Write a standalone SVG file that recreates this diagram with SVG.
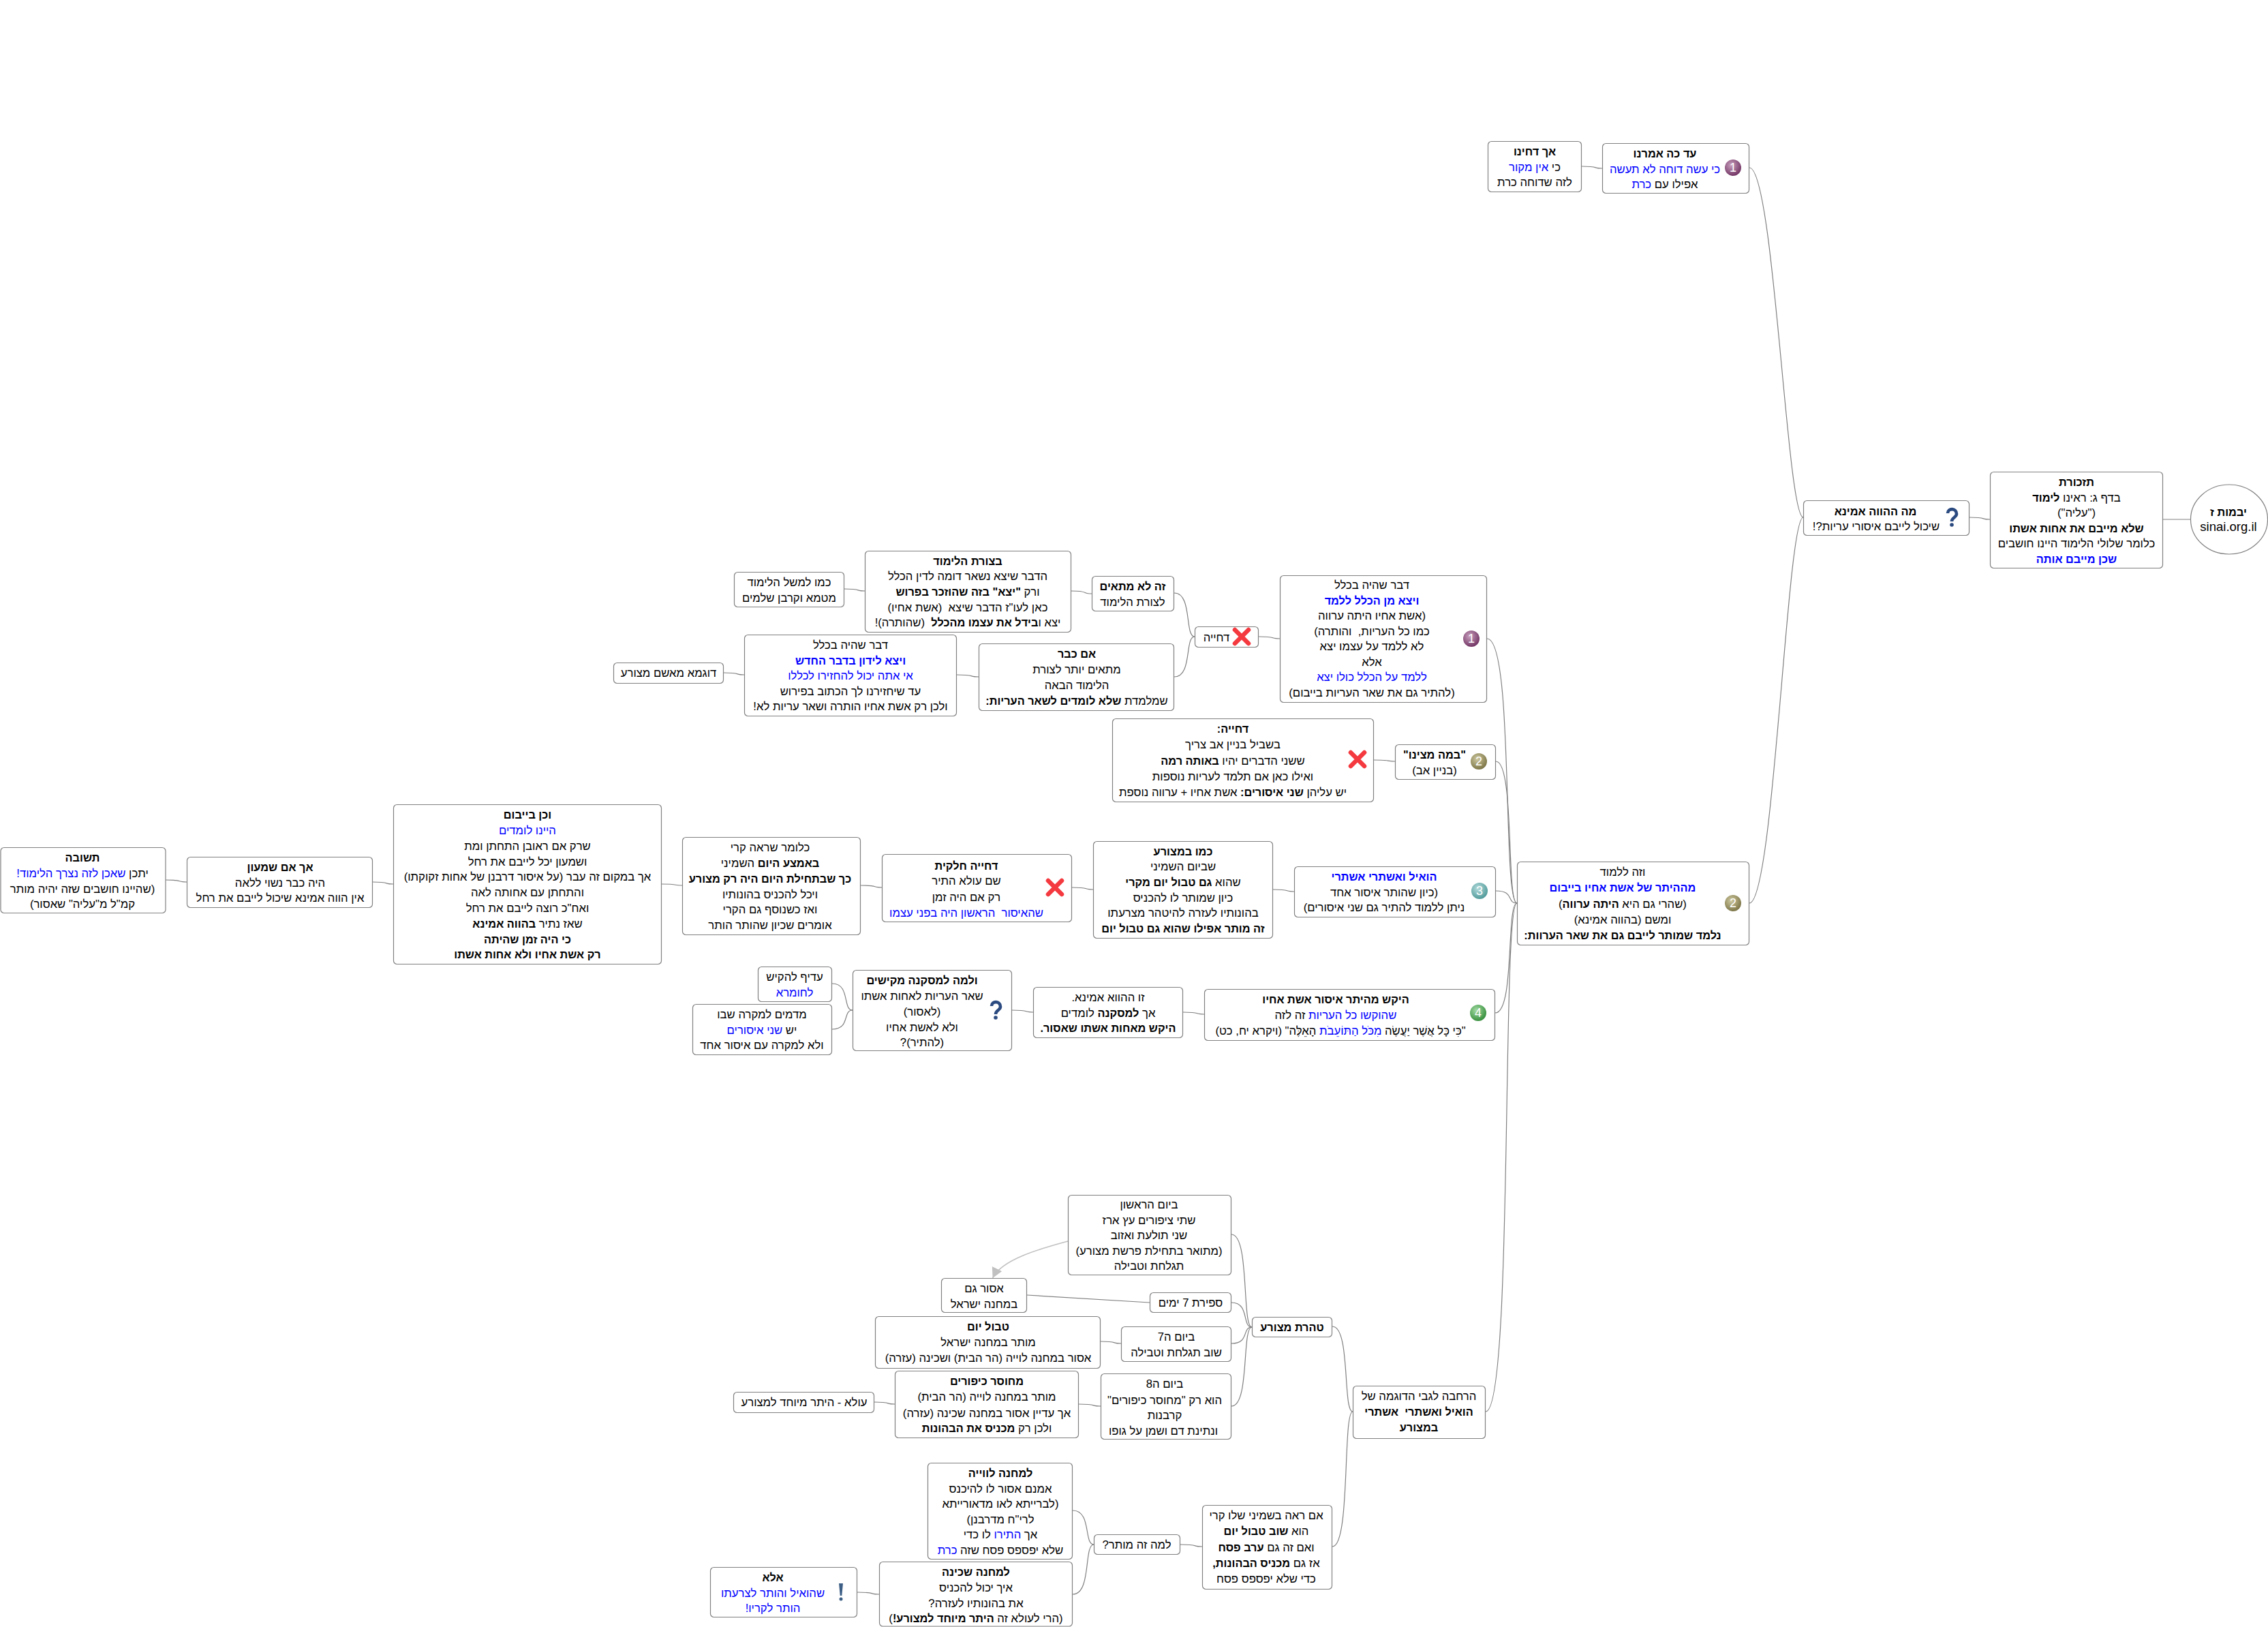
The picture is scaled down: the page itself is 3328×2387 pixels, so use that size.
<svg xmlns="http://www.w3.org/2000/svg" width="3328" height="2387" viewBox="0 0 3328 2387">
<style>
.t{font-family:"Liberation Sans",Arial,sans-serif;font-size:16.7px;text-anchor:middle;direction:rtl;unicode-bidi:embed;white-space:pre;fill:#000}
.l{font-family:"Liberation Sans",Arial,sans-serif;font-size:18.5px;text-anchor:middle;fill:#000}
.b{font-weight:bold;font-size:16.3px}
.u{fill:#00f}
.n{fill:#fff;stroke:#808080;stroke-width:1.2}
.c{fill:none;stroke:#808080;stroke-width:1.2}
.x{fill:none;stroke:#c0c0c0;stroke-width:1.5}
.d{font-family:"Liberation Sans",Arial,sans-serif;font-size:18px;text-anchor:middle;fill:#fff}
</style>
<defs>
<radialGradient id="g1" cx=".4" cy=".35" r=".7"><stop offset="0" stop-color="#c9a0bd"/><stop offset="1" stop-color="#6d2f60"/></radialGradient>
<radialGradient id="g2" cx=".4" cy=".35" r=".7"><stop offset="0" stop-color="#cfc9a0"/><stop offset="1" stop-color="#777042"/></radialGradient>
<radialGradient id="g3" cx=".4" cy=".35" r=".7"><stop offset="0" stop-color="#b5dcdc"/><stop offset="1" stop-color="#4b9696"/></radialGradient>
<radialGradient id="g4" cx=".4" cy=".35" r=".7"><stop offset="0" stop-color="#a5dca5"/><stop offset="1" stop-color="#2f8a36"/></radialGradient>
<g id="ix"><path d="M-10 -10L10 10M10 -10L-10 10" stroke="#f4393f" stroke-width="6.5" stroke-linecap="round" fill="none"/></g>
<g id="iq"><path d="M-6 -6C-6 -14 7 -14 7 -5C7 0 0 0 0 6" stroke="#2b4a80" stroke-width="4.6" fill="none"/><circle cx="0" cy="11" r="2.8" fill="#2b4a80"/></g>
<g id="ie"><path d="M-3 -12L3 -12L1.3 6L-1.3 6Z" fill="#3d5f85"/><circle cx="0" cy="11" r="2.5" fill="#3d5f85"/></g>
<marker id="a" markerUnits="userSpaceOnUse" markerWidth="18" markerHeight="18" refX="15" refY="8" orient="auto"><path d="M0 0L15 8L0 16Z" fill="#c0c0c0"/></marker>
</defs>
<g id="connectors">
<path class="c" d="M2890 759C2917 759 2905 762 2920 762"/>
<path class="c" d="M3174 762L3214 762"/>
<path class="c" d="M2567 246C2603 246 2622 759 2646 759"/>
<path class="c" d="M2567 1325C2603 1325 2622 759 2646 759"/>
<path class="c" d="M2321 244C2348 244 2336 247 2351 247"/>
<path class="c" d="M2182 937C2222 937 2204 1325 2226 1325"/>
<path class="c" d="M2195 1117C2223 1117 2210 1325 2226 1325"/>
<path class="c" d="M2195 1307C2223 1307 2210 1325 2226 1325"/>
<path class="c" d="M2194 1486C2223 1486 2210 1325 2226 1325"/>
<path class="c" d="M2180 2071C2221 2071 2203 1325 2226 1325"/>
<path class="c" d="M1847 934C1875 934 1862 937 1878 937"/>
<path class="c" d="M1723 870C1750 870 1738 934 1753 934"/>
<path class="c" d="M1723 993C1750 993 1738 934 1753 934"/>
<path class="c" d="M1572 867C1599 867 1587 871 1602 871"/>
<path class="c" d="M1239 864C1266 864 1254 867 1269 867"/>
<path class="c" d="M1404 990C1433 990 1420 993 1436 993"/>
<path class="c" d="M1062 987C1089 987 1077 990 1092 990"/>
<path class="c" d="M2016 1115C2044 1115 2031 1117 2047 1117"/>
<path class="c" d="M1868 1305C1896 1305 1883 1308 1899 1308"/>
<path class="c" d="M1573 1302C1601 1302 1588 1305 1604 1305"/>
<path class="c" d="M1263 1299C1291 1299 1278 1302 1294 1302"/>
<path class="c" d="M971 1297C998 1297 986 1299 1001 1299"/>
<path class="c" d="M547 1294C574 1294 562 1297 577 1297"/>
<path class="c" d="M243 1291C271 1291 258 1294 274 1294"/>
<path class="c" d="M1736 1485C1764 1485 1751 1488 1767 1488"/>
<path class="c" d="M1485 1482C1513 1482 1500 1485 1516 1485"/>
<path class="c" d="M1221 1443C1248 1443 1236 1482 1251 1482"/>
<path class="c" d="M1221 1510C1248 1510 1236 1482 1251 1482"/>
<path class="c" d="M1955 1946C1982 1946 1970 2071 1985 2071"/>
<path class="c" d="M1955 2269C1982 2269 1970 2071 1985 2071"/>
<path class="c" d="M1807 1811C1834 1811 1822 1947 1837 1947"/>
<path class="c" d="M1807 1911C1834 1911 1822 1947 1837 1947"/>
<path class="c" d="M1807 1971C1834 1971 1822 1947 1837 1947"/>
<path class="c" d="M1807 2063C1834 2063 1822 1947 1837 1947"/>
<path class="c" d="M1615 1968C1642 1968 1630 1971 1645 1971"/>
<path class="c" d="M1583 2060C1612 2060 1599 2063 1615 2063"/>
<path class="c" d="M1283 2057C1310 2057 1298 2060 1313 2060"/>
<path class="c" d="M1507 1900L1687 1911"/>
<path class="c" d="M1732 2266C1761 2266 1748 2269 1764 2269"/>
<path class="c" d="M1574 2216C1602 2216 1590 2266 1605 2266"/>
<path class="c" d="M1574 2339C1602 2339 1590 2266 1605 2266"/>
<path class="c" d="M1258 2336C1287 2336 1274 2339 1290 2339"/>
<path class="x" d="M1567 1821C1530 1831 1470 1847 1456.6 1875" marker-end="url(#a)"/>
</g>
<g id="n-root"><ellipse class="n" cx="3271" cy="762" rx="56.5" ry="51"/><text class="t b" x="3270" y="757">יבמות ז</text><text class="l" x="3270" y="779">sinai.org.il</text></g>
<g id="n-tizkoret"><rect class="n" x="2920.5" y="692.5" width="253" height="141" rx="5"/>
<text class="t b" x="3047" y="713">תזכורת</text><text class="t" x="3047" y="736">בדף ג: ראינו <tspan class="b">לימוד</tspan></text><text class="t" x="3047" y="758">("עליה")</text><text class="t b" x="3047" y="781">שלא מייבם את אחות אשתו</text><text class="t" x="3047" y="803">כלומר שלולי הלימוד היינו חושבים</text><text class="t b u" x="3047" y="826">שכן מייבם אותה</text></g>
<g id="n-hava"><rect class="n" x="2646.5" y="734.5" width="243" height="51" rx="5"/><use href="#iq" x="2864" y="759"/>
<text class="t b" x="2752" y="756">מה ההווה אמינא</text><text class="t" x="2753" y="778">שיכול לייבם איסורי עריות?!</text></g>
<g id="n-ad-ko"><rect class="n" x="2351.5" y="210.5" width="215" height="73" rx="5"/><circle cx="2543" cy="246" r="12" fill="url(#g1)"/><text class="d" x="2543" y="252">1</text>
<text class="t b" x="2443" y="231">עד כה אמרנו</text><text class="t u" x="2443" y="254">כי עשה דוחה לא תעשה</text><text class="t" x="2443" y="276">אפילו עם <tspan class="u">כרת</tspan></text></g>
<g id="n-ach-dachinu"><rect class="n" x="2183.5" y="207.5" width="137" height="74" rx="5"/>
<text class="t b" x="2252" y="228">אך דחינו</text><text class="t" x="2252" y="251">כי <tspan class="u">אין מקור</tspan></text><text class="t" x="2252" y="273">לזה שדוחה כרת</text></g>
<g id="n-davar"><rect class="n" x="1878.5" y="844.5" width="303" height="186" rx="5"/><circle cx="2159" cy="937" r="12" fill="url(#g1)"/><text class="d" x="2159" y="943">1</text>
<text class="t" x="2013" y="864">דבר שהיה בכלל</text><text class="t b u" x="2013" y="887">ויצא מן הכלל ללמד</text><text class="t" x="2013" y="909">(אשת אחיו היתה ערווה</text><text class="t" x="2013" y="932">כמו כל העריות,  והותרה)</text><text class="t" x="2013" y="954">לא ללמד על עצמו יצא</text><text class="t" x="2013" y="977">אלא</text><text class="t u" x="2013" y="999">ללמד על הכלל כולו יצא</text><text class="t" x="2013" y="1022">(להתיר גם את שאר העריות בייבום)</text></g>
<g id="n-dchiya1"><rect class="n" x="1753.5" y="919.5" width="93" height="30" rx="5"/><use href="#ix" x="1822" y="934"/><text class="t" x="1785" y="941">דחייה</text></g>
<g id="n-lo-matim"><rect class="n" x="1602.5" y="845.5" width="120" height="51" rx="5"/><text class="t b" x="1662" y="866">זה לא מתאים</text><text class="t" x="1662" y="889">לצורת הלימוד</text></g>
<g id="n-tzurat"><rect class="n" x="1269.5" y="808.5" width="302" height="119" rx="5"/>
<text class="t b" x="1420" y="829">בצורת הלימוד</text><text class="t" x="1420" y="851">הדבר שיצא נשאר דומה לדין הכלל</text><text class="t" x="1420" y="874">ורק <tspan class="b">"יצא" בזה שהוזכר בפרוש</tspan></text><text class="t" x="1420" y="897">כאן לעו"ז הדבר שיצא  (אשת אחיו)</text><text class="t" x="1420" y="919">יצא ו<tspan class="b">בידל את עצמו מהכלל</tspan>  (שהותרה)!</text></g>
<g id="n-kmo-lemashal"><rect class="n" x="1077.5" y="839.5" width="161" height="51" rx="5"/><text class="t" x="1158" y="860">כמו למשל הלימוד</text><text class="t" x="1158" y="883">מטמא וקרבן שלמים</text></g>
<g id="n-im-kvar"><rect class="n" x="1436.5" y="944.5" width="286" height="98" rx="5"/>
<text class="t b" x="1580" y="965">אם כבר</text><text class="t" x="1580" y="988">מתאים יותר לצורת</text><text class="t" x="1580" y="1011">הלימוד הבאה</text><text class="t" x="1580" y="1034">שמלמדת <tspan class="b">שלא לומדים לשאר העריות:</tspan></text></g>
<g id="n-davar2"><rect class="n" x="1092.5" y="931.5" width="311" height="119" rx="5"/>
<text class="t" x="1248" y="952">דבר שהיה בכלל</text><text class="t b u" x="1248" y="975">ויצא לידון בדבר החדש</text><text class="t u" x="1248" y="997">אי אתה יכול להחזירו לכללו</text><text class="t" x="1248" y="1020">עד שיחזירנו לך הכתוב בפירוש</text><text class="t" x="1248" y="1042">ולכן רק אשת אחיו הותרה ושאר עריות לא!</text></g>
<g id="n-dugma"><rect class="n" x="900.5" y="972.5" width="161" height="30" rx="5"/><text class="t" x="981" y="993">דוגמא מאשם מצורע</text></g>
<g id="n-dchiya2"><rect class="n" x="1632.5" y="1054.5" width="383" height="122" rx="5"/><use href="#ix" x="1992" y="1114"/>
<text class="t b" x="1809" y="1075">דחייה:</text><text class="t" x="1809" y="1098">בשביל בניין אב צריך</text><text class="t" x="1809" y="1122">ששני הדברים יהיו <tspan class="b">באותה רמה</tspan></text><text class="t" x="1809" y="1145">ואילו כאן אם תלמד לעריות נוספות</text><text class="t" x="1809" y="1168">יש עליהן <tspan class="b">שני איסורים:</tspan> אשת אחיו + ערווה נוספת</text></g>
<g id="n-bama"><rect class="n" x="2047.5" y="1092.5" width="147" height="51" rx="5"/><circle cx="2170" cy="1117" r="12" fill="url(#g2)"/><text class="d" x="2170" y="1123">2</text>
<text class="t b" x="2105" y="1113">"במה מצינו"</text><text class="t" x="2105" y="1136">(בניין אב)</text></g>
<g id="n-hoil"><rect class="n" x="1899.5" y="1271.5" width="295" height="74" rx="5"/><circle cx="2171" cy="1307" r="12" fill="url(#g3)"/><text class="d" x="2171" y="1313">3</text>
<text class="t b u" x="2031" y="1292">הואיל ואשתרי אשתרי</text><text class="t" x="2031" y="1315">(כיון שהותר איסור אחד</text><text class="t" x="2031" y="1337">ניתן ללמוד להתיר גם שני איסורים)</text></g>
<g id="n-kmo-metzora"><rect class="n" x="1604.5" y="1234.5" width="263" height="142" rx="5"/>
<text class="t b" x="1736" y="1255">כמו במצורע</text><text class="t" x="1736" y="1277">שביום השמיני</text><text class="t" x="1736" y="1300">שהוא <tspan class="b">גם טבול יום מקרי</tspan></text><text class="t" x="1736" y="1323">כיון שמותר לו להכניס</text><text class="t" x="1736" y="1345">בהונותיו לעזרה להיטהר מצרעתו</text><text class="t b" x="1736" y="1368">זה מותר אפילו שהוא גם טבול יום</text></g>
<g id="n-dchiya3"><rect class="n" x="1294.5" y="1253.5" width="278" height="99" rx="5"/><use href="#ix" x="1548" y="1302"/>
<text class="t b" x="1418" y="1276">דחייה חלקית</text><text class="t" x="1418" y="1298">שם עולא התיר</text><text class="t" x="1418" y="1322">רק אם היה זמן</text><text class="t u" x="1418" y="1345">שהאיסור  הראשון היה בפני עצמו</text></g>
<g id="n-klomar"><rect class="n" x="1001.5" y="1228.5" width="261" height="143" rx="5"/>
<text class="t" x="1130" y="1249">כלומר שראה קרי</text><text class="t" x="1130" y="1272"><tspan class="b">באמצע היום</tspan> השמיני</text><text class="t b" x="1130" y="1295">כך שבתחילת היום היה רק מצורע</text><text class="t" x="1130" y="1318">ויכל להכניס בהונותיו</text><text class="t" x="1130" y="1340">ואז כשנוסף גם הקרי</text><text class="t" x="1130" y="1363">אומרים שכיון שהותר הותר</text></g>
<g id="n-vechen"><rect class="n" x="577.5" y="1180.5" width="393" height="234" rx="5"/>
<text class="t b" x="774" y="1201">וכן בייבום</text><text class="t u" x="774" y="1224">היינו לומדים</text><text class="t" x="774" y="1247">שרק אם ראובן התחתן ומת</text><text class="t" x="774" y="1270">ושמעון יכל לייבם את רחל</text><text class="t" x="774" y="1292">אך במקום זה עבר (על איסור דרבנן של אחות זקוקתו)</text><text class="t" x="774" y="1315">והתחתן עם אחותה לאה</text><text class="t" x="774" y="1338">ואח"כ רוצה לייבם את רחל</text><text class="t" x="774" y="1361">שאז נתיר <tspan class="b">בהווה אמינא</tspan></text><text class="t b" x="774" y="1384">כי היה זמן שהיתה</text><text class="t b" x="774" y="1406">רק אשת אחיו ולא אחות אשתו</text></g>
<g id="n-shimon"><rect class="n" x="274.5" y="1257.5" width="272" height="74" rx="5"/><text class="t b" x="411" y="1278">אך אם שמעון</text><text class="t" x="411" y="1301">היה כבר נשוי ללאה</text><text class="t" x="411" y="1323">אין הווה אמינא שיכול לייבם את רחל</text></g>
<g id="n-tshuva"><rect class="n" x="1" y="1243.5" width="242" height="96" rx="5"/><text class="t b" x="121" y="1264">תשובה</text><text class="t" x="121" y="1287">יתכן <tspan class="u">שאכן לזה נצרך הלימוד!</tspan></text><text class="t" x="121" y="1310">(שהיינו חושבים שזה יהיה מותר</text><text class="t" x="121" y="1332">קמ"ל מ"עליה" שאסור)</text></g>
<g id="n-veze"><rect class="n" x="2226.5" y="1264.5" width="340" height="122" rx="5"/><circle cx="2543" cy="1325" r="12" fill="url(#g2)"/><text class="d" x="2543" y="1331">2</text>
<text class="t" x="2381" y="1285">וזה ללמוד</text><text class="t b u" x="2381" y="1308">מההיתר של אשת אחיו בייבום</text><text class="t" x="2381" y="1332">(שהרי גם היא <tspan class="b">היתה ערווה</tspan>)</text><text class="t" x="2381" y="1355">ומשם (בהווה אמינא)</text><text class="t b" x="2381" y="1378">נלמד שמותר לייבם גם את שאר הערוות:</text></g>
<g id="n-hekesh"><rect class="n" x="1767.5" y="1451.5" width="426" height="75" rx="5"/><circle cx="2169" cy="1486" r="12" fill="url(#g4)"/><text class="d" x="2169" y="1492">4</text>
<text class="t b" x="1960" y="1472">היקש מהיתר איסור אשת אחיו</text><text class="t" x="1960" y="1495"><tspan class="u">שהוקשו כל העריות</tspan> זה לזה</text><text class="t" x="1967" y="1518">"כִּי כָּל אֲשֶׁר יַעֲשֶׂה <tspan class="u">מִכֹּל הַתּוֹעֵבֹת</tspan> הָאֵלֶּה" (ויקרא יח, כט)</text></g>
<g id="n-zu"><rect class="n" x="1516.5" y="1448.5" width="219" height="74" rx="5"/><text class="t" x="1626" y="1469">זו ההווא אמינא.</text><text class="t" x="1626" y="1492">אך <tspan class="b">למסקנה</tspan> לומדים</text><text class="t b" x="1626" y="1514">היקש מאחות אשתו שאסור.</text></g>
<g id="n-velama"><rect class="n" x="1251.5" y="1423.5" width="233" height="118" rx="5"/><use href="#iq" x="1461" y="1482"/>
<text class="t b" x="1353" y="1444">ולמה למסקנה מקישים</text><text class="t" x="1353" y="1467">שאר העריות לאחות אשתו</text><text class="t" x="1353" y="1490">(לאסור)</text><text class="t" x="1353" y="1513">ולא לאשת אחיו</text><text class="t" x="1353" y="1535">(להתיר)?</text></g>
<g id="n-adif"><rect class="n" x="1112.5" y="1418.5" width="108" height="51" rx="5"/><text class="t" x="1166" y="1439">עדיף להקיש</text><text class="t u" x="1166" y="1462">לחומרא</text></g>
<g id="n-medamim"><rect class="n" x="1016.5" y="1473.5" width="204" height="74" rx="5"/><text class="t" x="1118" y="1494">מדמים למקרה שבו</text><text class="t" x="1118" y="1517">יש <tspan class="u">שני איסורים</tspan></text><text class="t" x="1118" y="1539">ולא למקרה עם איסור אחד</text></g>
<g id="n-rishon"><rect class="n" x="1567.5" y="1753.5" width="239" height="117" rx="5"/>
<text class="t" x="1686" y="1773">ביום הראשון</text><text class="t" x="1686" y="1796">שתי ציפורים עץ ארז</text><text class="t" x="1686" y="1818">שני תולעת ואזוב</text><text class="t" x="1686" y="1841">(מתואר בתחילת פרשת מצורע)</text><text class="t" x="1686" y="1863">תגלחת וטבילה</text></g>
<g id="n-asur"><rect class="n" x="1381.5" y="1875.5" width="125" height="50" rx="5"/><text class="t" x="1444" y="1896">אסור גם</text><text class="t" x="1444" y="1919">במחנה ישראל</text></g>
<g id="n-sfirat"><rect class="n" x="1687.5" y="1896.5" width="119" height="29" rx="5"/><text class="t" x="1747" y="1917">ספירת 7 ימים</text></g>
<g id="n-tvul"><rect class="n" x="1284.5" y="1931.5" width="330" height="76" rx="5"/><text class="t b" x="1450" y="1952">טבול יום</text><text class="t" x="1450" y="1975">מותר במחנה ישראל</text><text class="t" x="1450" y="1998">אסור במחנה לוייה (הר הבית) ושכינה (עזרה)</text></g>
<g id="n-yom7"><rect class="n" x="1645.5" y="1946.5" width="161" height="51" rx="5"/><text class="t" x="1726" y="1967">ביום ה7</text><text class="t" x="1726" y="1990">שוב תגלחת וטבילה</text></g>
<g id="n-mechusar"><rect class="n" x="1313.5" y="2011.5" width="269" height="98" rx="5"/><text class="t b" x="1448" y="2032">מחוסר כיפורים</text><text class="t" x="1448" y="2055">מותר במחנה לוייה (הר הבית)</text><text class="t" x="1448" y="2079">אך עדיין אסור במחנה שכינה (עזרה)</text><text class="t" x="1448" y="2101">ולכן רק <tspan class="b">מכניס את הבהונות</tspan></text></g>
<g id="n-yom8"><rect class="n" x="1615.5" y="2015.5" width="191" height="96" rx="5"/><text class="t" x="1709" y="2036">ביום ה8</text><text class="t" x="1709" y="2060">הוא רק "מחוסר כיפורים"</text><text class="t" x="1709" y="2082">קרבנות</text><text class="t" x="1707" y="2105">ונתינת דם ושמן על גופו</text></g>
<g id="n-tahorat"><rect class="n" x="1837.5" y="1932.5" width="117" height="29" rx="5"/><text class="t b" x="1896" y="1953">טהרת מצורע</text></g>
<g id="n-ula"><rect class="n" x="1076.5" y="2042.5" width="206" height="30" rx="5"/><text class="t" x="1180" y="2063">עולא - היתר מיוחד למצורע</text></g>
<g id="n-harchava"><rect class="n" x="1985.5" y="2033.5" width="194" height="77" rx="5"/><text class="t" x="2082" y="2054">הרחבה לגבי הדוגמה של</text><text class="t b" x="2082" y="2077">הואיל ואשתרי  אשתרי</text><text class="t b" x="2082" y="2100">במצורע</text></g>
<g id="n-im-raa"><rect class="n" x="1764.5" y="2208.5" width="190" height="123" rx="5"/><text class="t" x="1858" y="2229">אם ראה בשמיני שלו קרי</text><text class="t" x="1858" y="2252">הוא <tspan class="b">שוב טבול יום</tspan></text><text class="t" x="1858" y="2276">ואם זה גם <tspan class="b">ערב פסח</tspan></text><text class="t" x="1858" y="2299">אז גם <tspan class="b">מכניס הבהונות,</tspan></text><text class="t" x="1858" y="2322">כדי שלא יפספס פסח</text></g>
<g id="n-lama"><rect class="n" x="1605.5" y="2251.5" width="126" height="29" rx="5"/><text class="t" x="1668" y="2272">למה זה מותר?</text></g>
<g id="n-levia"><rect class="n" x="1361.5" y="2146.5" width="212" height="141" rx="5"/><text class="t b" x="1468" y="2167">למחנה לווייה</text><text class="t" x="1468" y="2190">אמנם אסור לו להיכנס</text><text class="t" x="1468" y="2212">(לברייתא לאו מדאורייתא</text><text class="t" x="1468" y="2235">לרי"ח מדרבנן)</text><text class="t" x="1468" y="2257">אך <tspan class="u">התירו</tspan> לו כדי</text><text class="t" x="1468" y="2280">שלא יפספס פסח שזה <tspan class="u">כרת</tspan></text></g>
<g id="n-shchina"><rect class="n" x="1290.5" y="2291.5" width="283" height="94.5" rx="5"/><text class="t b" x="1432" y="2312">למחנה שכינה</text><text class="t" x="1432" y="2335">איך יכול להכניס</text><text class="t" x="1432" y="2358">את בהונותיו לעזרה?</text><text class="t" x="1432" y="2380">(הרי לעולא זה <tspan class="b">היתר מיוחד למצורע!</tspan>)</text></g>
<g id="n-ela"><rect class="n" x="1042.5" y="2299.5" width="215" height="73" rx="5"/><use href="#ie" x="1234" y="2335"/><text class="t b" x="1134" y="2320">אלא</text><text class="t u" x="1134" y="2343">שהואיל והותר לצרעתו</text><text class="t u" x="1134" y="2365">הותר לקריו!</text></g>
</svg>
